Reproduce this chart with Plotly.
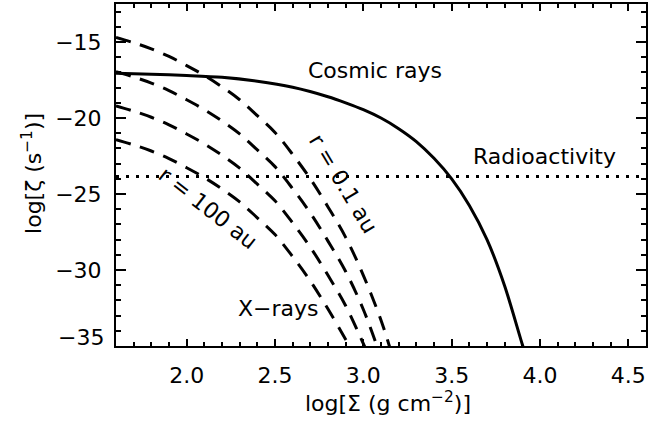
import plotly.graph_objects as go

# Cosmic-ray ionization rate vs. column density
cr_logsigma = [1.6, 1.8, 2.0, 2.2, 2.4, 2.6, 2.8, 2.9, 3.0, 3.1, 3.2, 3.3, 3.4,
               3.5, 3.6, 3.7, 3.8, 3.9, 3.92]
cr_logzeta = [-17.05, -17.12, -17.2, -17.32, -17.58, -17.98, -18.6, -19.0, -19.45,
              -20.0, -20.7, -21.55, -22.65, -24.0, -25.75, -28.0, -31.05, -34.9, -35.6]

# Radioactive decay ionization floor
radio_logzeta = -23.85

# X-ray ionization at r = 0.1, 1, 10, 100 au
xr_logsigma = [1.6, 1.7, 1.8, 1.9, 2.0, 2.1, 2.2, 2.3, 2.4, 2.5, 2.6, 2.7, 2.8, 2.9, 3.0]
xr_01au = [-14.7, -15.05, -15.45, -15.95, -16.55, -17.2, -17.95, -18.8, -19.85,
           -20.95, -22.4, -24.0, -25.85, -27.85, -30.35]
xr_01au_tail_x = [3.1, 3.15]
xr_01au_tail_y = [-33.3, -35.1]
xr_1au = [-16.95, -17.3, -17.7, -18.2, -18.8, -19.45, -20.2, -21.05, -22.1,
          -23.2, -24.65, -26.25, -28.1, -30.1, -32.6]
xr_1au_tail_x = [3.08]
xr_1au_tail_y = [-35.1]
xr_10au = [-19.2, -19.55, -19.95, -20.45, -21.05, -21.7, -22.45, -23.3, -24.35,
           -25.45, -26.9, -28.5, -30.35, -32.35, -34.85]
xr_10au_tail_x = [3.01]
xr_10au_tail_y = [-35.1]
xr_100au = [-21.42, -21.77, -22.17, -22.67, -23.27, -23.92, -24.67, -25.52, -26.57,
            -27.67, -29.12, -30.72, -32.57, -34.57]
xr_100au_tail_x = [2.93]
xr_100au_tail_y = [-35.2]

x_ticks = [2.0, 2.5, 3.0, 3.5, 4.0, 4.5]
x_ticktext = ["2.0", "2.5", "3.0", "3.5", "4.0", "4.5"]
y_ticks = [-35, -30, -25, -20, -15]
y_ticktext = ["", "\u221230", "\u221225", "\u221220", "\u221215"]

FONT = "DejaVu Sans"
FS = 22

fig = go.Figure()

dash_line = dict(color="black", width=3, dash="15px,10px")
xr_sets = [
    (xr_logsigma + xr_01au_tail_x, xr_01au + xr_01au_tail_y),
    (xr_logsigma + xr_1au_tail_x, xr_1au + xr_1au_tail_y),
    (xr_logsigma + xr_10au_tail_x, xr_10au + xr_10au_tail_y),
    (xr_logsigma[:len(xr_100au)] + xr_100au_tail_x, xr_100au + xr_100au_tail_y),
]
for xs, ys in xr_sets:
    fig.add_trace(go.Scatter(x=xs, y=ys, mode="lines", line=dash_line,
                             line_shape="spline", showlegend=False, hoverinfo="skip"))

fig.add_trace(go.Scatter(x=[1.6, 4.6], y=[radio_logzeta, radio_logzeta], mode="lines",
                         line=dict(color="black", width=3, dash="3px,7px"),
                         showlegend=False, hoverinfo="skip"))

fig.add_trace(go.Scatter(x=cr_logsigma, y=cr_logzeta, mode="lines",
                         line=dict(color="black", width=3, smoothing=0.8),
                         line_shape="spline", showlegend=False, hoverinfo="skip"))

txt = dict(family=FONT, size=FS, color="black")
annotations = [
    dict(x=3.066, y=-16.86, text="Cosmic rays"),
    dict(x=4.028, y=-22.55, text="Radioactivity"),
    dict(x=2.518, y=-32.55, text="X\u2212rays"),
    dict(x=2.886, y=-24.31, text="r = 0.1 au", textangle=59),
    dict(x=2.123, y=-25.95, text="r = 100 au", textangle=38),
]
for a in annotations:
    fig.add_annotation(xref="x", yref="y", showarrow=False, font=txt,
                       xanchor="center", yanchor="middle", **a)

# bottom-left y label, lifted clear of the x axis
fig.add_annotation(xref="paper", yref="y", x=-0.019, y=-34.44, text="\u221235",
                   showarrow=False, font=txt, xanchor="right", yanchor="middle")

# axis titles
fig.add_annotation(xref="paper", yref="paper", x=0.513, y=-0.163,
                   text="log[\u03a3 (g cm<sup>\u22122</sup>)]", showarrow=False,
                   font=txt, xanchor="center", yanchor="middle")
fig.add_annotation(xref="paper", yref="paper", x=-0.1585, y=0.506,
                   text="log[\u03b6 (s<sup>\u22121</sup>)]", showarrow=False,
                   font=txt, xanchor="center", yanchor="middle", textangle=-90)

axis_common = dict(showline=True, linecolor="black", linewidth=2, mirror="allticks",
                   ticks="inside", tickcolor="black", tickwidth=1.5, showgrid=False,
                   zeroline=False, tickfont=txt)

fig.update_xaxes(range=[1.6, 4.6], tickmode="array", tickvals=x_ticks,
                 ticktext=x_ticktext, ticklen=7, ticklabelstandoff=9,
                 minor=dict(ticks="inside", tick0=0, dtick=0.1, ticklen=4,
                            tickwidth=1.5, tickcolor="black"),
                 **axis_common)
fig.update_yaxes(range=[-35, -12.5], tickmode="array", tickvals=y_ticks,
                 ticktext=y_ticktext, ticklen=10, ticklabelstandoff=8,
                 minor=dict(ticks="inside", tick0=0, dtick=1, ticklen=5,
                            tickwidth=1.5, tickcolor="black"),
                 **axis_common)

fig.update_layout(width=670, height=424, margin=dict(l=116, r=24, t=2, b=78),
                  plot_bgcolor="white", paper_bgcolor="white", font=txt)

fig.write_html("out.html")
